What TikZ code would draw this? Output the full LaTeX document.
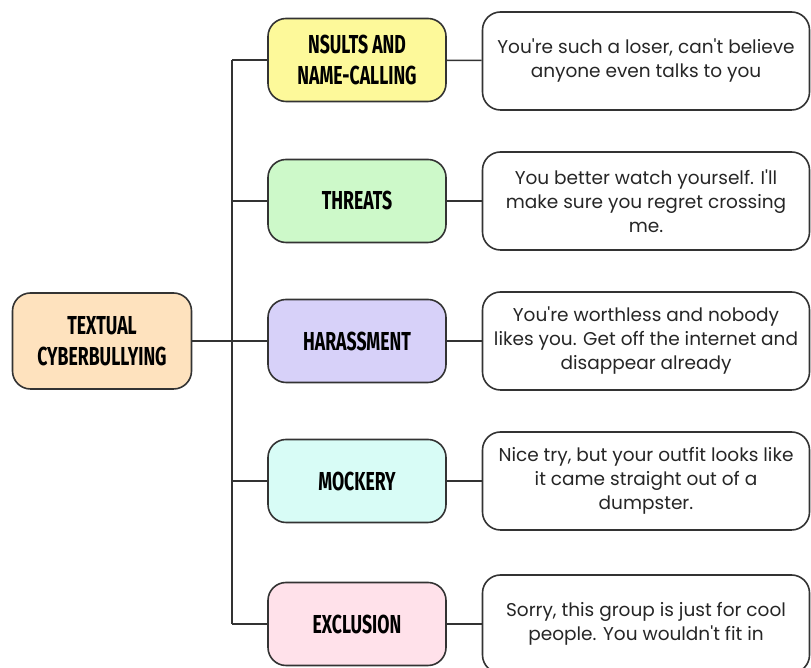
\documentclass[tikz,border=0pt]{standalone}
\usepackage{fontspec}
\setmainfont{Poppins}[Ligatures=TeXOff]
\newfontfamily\catfont[FakeStretch=0.68]{Fira Sans}
\usetikzlibrary{positioning, calc}

\definecolor{rootfill}{HTML}{FEE2BE}
\definecolor{insultfill}{HTML}{FDF99A}
\definecolor{threatfill}{HTML}{CDF9C9}
\definecolor{harassfill}{HTML}{D7D1F9}
\definecolor{mockfill}{HTML}{D8FCF6}
\definecolor{exclfill}{HTML}{FFE1EA}
\definecolor{edgegray}{HTML}{333333}

\begin{document}
\begin{tikzpicture}[x=1pt, y=1pt,
  catbox/.style={draw=edgegray, line width=1.6pt, rounded corners=18pt,
        minimum width=178pt, minimum height=83pt, align=center,
        font=\catfont\bfseries\fontsize{26}{31}\selectfont},
  msgbox/.style={draw=edgegray, line width=1.6pt, rounded corners=18pt, fill=white,
        minimum width=327pt, minimum height=98pt, align=center,
        font=\fontsize{18.5}{24}\selectfont, text=black!85},
  link/.style={draw=edgegray, line width=1.6pt}]
  \useasboundingbox (0,0) rectangle (811,668);

  % root of the tree
  \node[catbox, fill=rootfill, minimum width=179pt, minimum height=96pt]
        (root) at (102,327) {TEXTUAL\\CYBERBULLYING};

  % the five kinds
  \node[catbox, fill=insultfill] (insult) at (357,608) {NSULTS AND\\NAME-CALLING};
  \node[catbox, fill=threatfill] (threat) at (357,467) {THREATS};
  \node[catbox, fill=harassfill] (harass) at (357,327) {HARASSMENT};
  \node[catbox, fill=mockfill] (mock) at (357,187) {MOCKERY};
  \node[catbox, fill=exclfill] (excl) at (357,44) {EXCLUSION};

  % one message for each kind
  \node[msgbox] (m1) at (646,607) {You\textquotesingle re such a loser, can\textquotesingle t believe\\anyone even talks to you};
  \node[msgbox] (m2) at (646,467) {You better watch yourself. I\textquotesingle ll\\make sure you regret crossing\\me.};
  \node[msgbox] (m3) at (646,327) {You\textquotesingle re worthless and nobody\\likes you. Get off the internet and\\disappear already};
  \node[msgbox] (m4) at (646,187) {Nice try, but your outfit looks like\\it came straight out of a\\dumpster.};
  \node[msgbox] (m5) at (646,44) {Sorry, this group is just for cool\\people. You wouldn\textquotesingle t fit in};

  % trunk and branches
  \coordinate (trunk) at (232,327);
  \draw[link] (root.east) -- (trunk);
  \draw[link] (insult.west -| trunk) -- (excl.west -| trunk);
  \draw[link] (insult.west) -- (insult.west -| trunk);
  \draw[link] (threat.west) -- (threat.west -| trunk);
  \draw[link] (harass.west) -- (harass.west -| trunk);
  \draw[link] (mock.west) -- (mock.west -| trunk);
  \draw[link] (excl.west) -- (excl.west -| trunk);

  \draw[link] (insult) -- (m1);
  \draw[link] (threat) -- (m2);
  \draw[link] (harass) -- (m3);
  \draw[link] (mock) -- (m4);
  \draw[link] (excl) -- (m5);
\end{tikzpicture}
\end{document}
